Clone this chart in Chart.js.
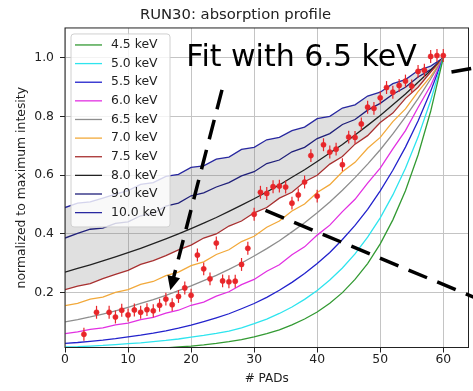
<!DOCTYPE html>
<html>
<head>
<meta charset="utf-8">
<script src="https://cdn.jsdelivr.net/npm/chart.js@4.4.1/dist/chart.umd.min.js"></script>
<style>
  html, body { margin: 0; padding: 0; background: #fff; }
  canvas { display: block; }
</style>
</head>
<body>
<canvas id="profile" width="473" height="391"></canvas>
<script>
// PAD positions of the simulated curves
const pads = [0,2,4,6,8,10,12,14,16,18,20,22,24,26,28,30,32,34,36,38,40,42,44,46,48,50,52,54,56,58,60];

// simulated absorption profiles, one per energy
const e45  = [0.002,0.003,0.004,0.004,0.005,0.007,0.008,0.010,0.012,0.015,0.018,0.022,0.027,0.033,0.040,0.049,0.060,0.073,0.090,0.110,0.134,0.164,0.200,0.245,0.299,0.366,0.448,0.547,0.669,0.818,1.0];
const e50  = [0.015,0.016,0.018,0.020,0.023,0.026,0.029,0.033,0.037,0.042,0.048,0.054,0.061,0.069,0.080,0.094,0.110,0.129,0.151,0.177,0.207,0.243,0.284,0.332,0.389,0.455,0.533,0.624,0.730,0.855,1.0];
const e55  = [0.027,0.030,0.034,0.038,0.043,0.049,0.055,0.062,0.070,0.079,0.089,0.101,0.114,0.128,0.145,0.163,0.184,0.208,0.235,0.265,0.299,0.337,0.381,0.429,0.484,0.547,0.617,0.696,0.785,0.886,1.0];
const e60  = [0.060,0.066,0.075,0.080,0.090,0.096,0.108,0.116,0.130,0.140,0.157,0.168,0.188,0.203,0.227,0.245,0.273,0.295,0.329,0.356,0.396,0.430,0.476,0.518,0.573,0.624,0.690,0.752,0.831,0.906,1.0];
const e65  = [0.100,0.108,0.117,0.127,0.138,0.150,0.163,0.176,0.191,0.207,0.223,0.241,0.259,0.279,0.301,0.325,0.350,0.377,0.407,0.438,0.472,0.509,0.549,0.592,0.638,0.687,0.741,0.799,0.861,0.928,1.0];
const e70  = [0.156,0.163,0.178,0.185,0.201,0.210,0.228,0.238,0.258,0.270,0.292,0.305,0.330,0.346,0.374,0.392,0.423,0.444,0.478,0.502,0.541,0.568,0.612,0.644,0.692,0.729,0.783,0.826,0.885,0.937,1.0];
const e75  = [0.210,0.222,0.231,0.248,0.262,0.276,0.296,0.309,0.326,0.346,0.362,0.386,0.400,0.427,0.444,0.472,0.490,0.522,0.542,0.578,0.600,0.638,0.664,0.706,0.735,0.780,0.812,0.862,0.900,0.952,1.0];
const e80  = [0.270,0.283,0.295,0.308,0.322,0.336,0.351,0.367,0.383,0.400,0.418,0.437,0.456,0.477,0.498,0.520,0.543,0.567,0.593,0.619,0.647,0.676,0.705,0.737,0.770,0.804,0.840,0.877,0.917,0.957,1.0];
const e90  = [0.386,0.402,0.416,0.420,0.436,0.441,0.462,0.470,0.495,0.505,0.530,0.540,0.560,0.575,0.598,0.612,0.640,0.652,0.680,0.695,0.725,0.742,0.773,0.790,0.822,0.845,0.876,0.900,0.935,0.960,1.0];
const e100 = [0.490,0.505,0.509,0.522,0.536,0.548,0.569,0.575,0.596,0.603,0.627,0.632,0.655,0.662,0.688,0.695,0.721,0.729,0.752,0.764,0.793,0.801,0.829,0.840,0.870,0.883,0.912,0.926,0.957,0.972,1.0];

// measured RUN30 profile
const runX = [3,5,7,8,9,10,11,12,13,14,15,16,17,18,19,20,21,22,23,24,25,26,27,28,29,30,31,32,33,34,35,36,37,38,39,40,41,42,43,44,45,46,47,48,49,50,51,52,53,54,55,56,57,58,59,60];
const runY = [0.058,0.133,0.133,0.117,0.140,0.124,0.141,0.133,0.142,0.138,0.157,0.178,0.159,0.187,0.216,0.191,0.328,0.281,0.247,0.369,0.240,0.237,0.239,0.296,0.351,0.467,0.542,0.538,0.561,0.563,0.560,0.505,0.533,0.577,0.667,0.529,0.704,0.679,0.689,0.636,0.730,0.729,0.775,0.832,0.828,0.864,0.899,0.883,0.906,0.921,0.904,0.954,0.958,1.005,1.008,1.008];
const runErr = 0.022;

const xTicks = [0, 10, 20, 30, 40, 50, 60];
const yTicks = [0.2, 0.4, 0.6, 0.8, 1.0];

const FONT = 'DejaVu Sans';
const RED = '#e8262a';

const curves = [
    { label: '4.5 keV',  data: e45,  color: '#339a33' },
    { label: '5.0 keV',  data: e50,  color: '#2ee4ee' },
    { label: '5.5 keV',  data: e55,  color: '#2222cc' },
    { label: '6.0 keV',  data: e60,  color: '#e230e2' },
    { label: '6.5 keV',  data: e65,  color: '#8e8e8e' },
    { label: '7.0 keV',  data: e70,  color: '#f2a93b' },
    { label: '7.5 keV',  data: e75,  color: '#a83030' },
    { label: '8.0 keV',  data: e80,  color: '#222222' },
    { label: '9.0 keV',  data: e90,  color: '#20207a' },
    { label: '10.0 keV', data: e100, color: '#2828a0' }
];

const datasets = curves.map(c => ({
    type: 'line',
    label: c.label,
    data: pads.map((p, i) => ({ x: p, y: c.data[i] })),
    borderColor: c.color,
    backgroundColor: c.color,
    borderWidth: 1.3,
    pointRadius: 0,
    tension: 0,
    fill: false,
    order: 1
}));
// shaded band between 7.5 keV and 10.0 keV
datasets[9].fill = { target: 6 };
datasets[9].backgroundColor = 'rgba(120,120,120,0.23)';

datasets.push({
    type: 'scatter',
    label: '',
    data: runX.map((p, i) => ({ x: p, y: runY[i] })),
    backgroundColor: RED,
    borderColor: RED,
    borderWidth: 0.5,
    pointRadius: 2.6,
    order: 0
});

// error bars, frame, legend and the slide annotations
const overlay = {
    id: 'overlay',
    afterDatasetsDraw(chart) {
        const { ctx, chartArea: a, scales: { x, y } } = chart;
        ctx.save();
        ctx.strokeStyle = RED;
        ctx.lineWidth = 1.2;
        runX.forEach((p, i) => {
            const cx = x.getPixelForValue(p);
            ctx.beginPath();
            ctx.moveTo(cx, y.getPixelForValue(runY[i] - runErr));
            ctx.lineTo(cx, y.getPixelForValue(runY[i] + runErr));
            ctx.stroke();
        });
        ctx.strokeStyle = '#222';
        ctx.lineWidth = 1;
        ctx.strokeRect(a.left, a.top, a.right - a.left, a.bottom - a.top);
        ctx.restore();
    },
    afterDraw(chart) {
        const { ctx, chartArea: a, scales: { x, y } } = chart;
        ctx.save();

        // legend box
        const bx = a.left + 6, by = a.top + 6, bw = 99, bh = 193;
        ctx.fillStyle = 'rgba(255,255,255,0.8)';
        ctx.strokeStyle = '#d0d0d0';
        ctx.lineWidth = 1;
        ctx.beginPath();
        ctx.roundRect(bx, by, bw, bh, 3);
        ctx.fill();
        ctx.stroke();
        ctx.font = `12.4px "${FONT}"`;
        ctx.textBaseline = 'middle';
        ctx.textAlign = 'left';
        curves.forEach((c, i) => {
            const ly = by + 11 + i * 18.63;
            ctx.strokeStyle = c.color;
            ctx.lineWidth = 1.3;
            ctx.beginPath();
            ctx.moveTo(bx + 4, ly);
            ctx.lineTo(bx + 31, ly);
            ctx.stroke();
            ctx.fillStyle = '#222';
            ctx.fillText(c.label, bx + 40, ly);
        });

        // "Fit with 6.5 keV" note
        ctx.fillStyle = '#000';
        ctx.font = `30px "${FONT}"`;
        ctx.textBaseline = 'alphabetic';
        ctx.fillText('Fit with 6.5 keV', x.getPixelForValue(19.25), y.getPixelForValue(0.974));

        // dashed arrows
        ctx.strokeStyle = '#000';
        ctx.lineWidth = 3.5;
        ctx.setLineDash([20, 11]);
        const x0 = x.getPixelForValue(24.9), y0 = y.getPixelForValue(0.891);
        const x1 = x.getPixelForValue(16.7), y1 = y.getPixelForValue(0.208);
        const len = Math.hypot(x1 - x0, y1 - y0);
        const ux = (x1 - x0) / len, uy = (y1 - y0) / len;
        ctx.beginPath();
        ctx.moveTo(x0, y0);
        ctx.lineTo(x1 - ux * 12, y1 - uy * 12);
        ctx.stroke();

        ctx.beginPath();
        ctx.moveTo(x.getPixelForValue(31.8), y.getPixelForValue(0.48));
        ctx.lineTo(x.getPixelForValue(66), y.getPixelForValue(0.174));
        ctx.stroke();

        ctx.beginPath();
        ctx.moveTo(x.getPixelForValue(61.3), y.getPixelForValue(0.952));
        ctx.lineTo(x.getPixelForValue(66), y.getPixelForValue(0.970));
        ctx.stroke();

        ctx.setLineDash([]);
        ctx.fillStyle = '#000';
        ctx.beginPath();
        ctx.moveTo(x1, y1);
        ctx.lineTo(x1 - ux * 14 - uy * 6.5, y1 - uy * 14 + ux * 6.5);
        ctx.lineTo(x1 - ux * 14 + uy * 6.5, y1 - uy * 14 - ux * 6.5);
        ctx.closePath();
        ctx.fill();
        ctx.restore();
    }
};

new Chart(document.getElementById('profile'), {
    type: 'line',
    data: { datasets: datasets },
    options: {
        responsive: false,
        animation: false,
        devicePixelRatio: 1,
        layout: { padding: { left: 0, right: 2, top: 0, bottom: 0 } },
        plugins: {
            legend: { display: false },
            tooltip: { enabled: false },
            title: {
                display: true,
                text: 'RUN30: absorption profile',
                color: '#222',
                font: { family: FONT, size: 14.8, weight: 'normal' },
                padding: { top: 6, bottom: 4.2 }
            }
        },
        scales: {
            x: {
                type: 'linear',
                min: 0,
                max: 64,
                afterFit: s => { s.height = 43.5; },
                afterBuildTicks: s => { s.ticks = xTicks.map(v => ({ value: v })); },
                ticks: { color: '#222', font: { family: FONT, size: 12.4 }, padding: 0, maxRotation: 0 },
                grid: { color: '#c4c4c4', lineWidth: 1, tickColor: '#222', tickLength: 5 },
                border: { display: false },
                title: { display: true, text: '# PADs', color: '#222', font: { family: FONT, size: 12 }, padding: { top: 0, bottom: 4.8 } }
            },
            y: {
                min: 0.013,
                max: 1.102,
                afterFit: s => { s.width = 65; },
                afterBuildTicks: s => { s.ticks = yTicks.map(v => ({ value: v })); },
                ticks: { color: '#222', font: { family: FONT, size: 12.4 }, padding: 6, callback: v => v.toFixed(1) },
                grid: { color: '#c4c4c4', lineWidth: 1, tickColor: '#222', tickLength: 5 },
                border: { display: false },
                title: { display: true, text: 'normalized to maximum intesity', color: '#222', font: { family: FONT, size: 12.4 }, padding: { top: 14.5, bottom: 0 } }
            }
        }
    },
    plugins: [overlay]
});
</script>
</body>
</html>
